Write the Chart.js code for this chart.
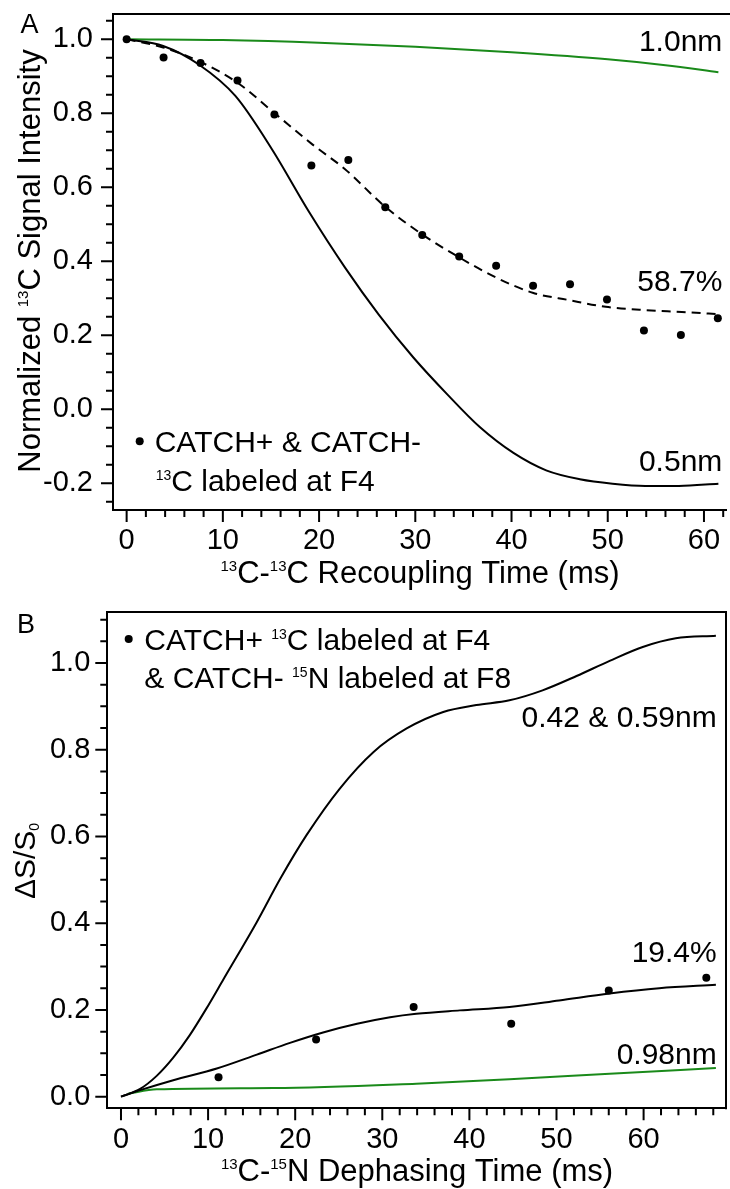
<!DOCTYPE html>
<html><head><meta charset="utf-8">
<script src="https://cdn.jsdelivr.net/npm/chart.js@4.4.1/dist/chart.umd.min.js"></script>
<style>
html,body{margin:0;padding:0;background:#fff;}
#wrap{position:relative;width:730px;height:1189px;overflow:hidden;}
canvas{position:absolute;left:0;}
</style></head><body>
<div id="wrap">
<canvas id="chartA" width="730" height="595" style="top:0"></canvas>
<canvas id="chartB" width="730" height="594" style="top:595px"></canvas>
</div>
<script>
const FONT = "'Liberation Sans', Arial, Helvetica, sans-serif";

// ---------- Panel A : 13C-13C recoupling ----------
const timeA   = [0, 3.84, 7.68, 11.52, 15.36, 19.2, 23.04, 26.88, 30.72, 34.56, 38.4, 42.24, 46.08, 49.92, 53.76, 57.6, 61.44];
const signalA = [1.0, 0.951, 0.936, 0.889, 0.797, 0.659, 0.674, 0.546, 0.471, 0.413, 0.388, 0.334, 0.338, 0.297, 0.213, 0.201, 0.246];

const fit587TimeA = [0, 3.8, 7.5, 11.5, 15.3, 19.3, 22.7, 26.8, 30.7, 34.6, 38.4, 42.2, 46.0, 49.8, 53.9, 57.7, 61.5];
const fit587A     = [1.0, 0.978, 0.941, 0.883, 0.802, 0.716, 0.649, 0.549, 0.473, 0.410, 0.356, 0.315, 0.295, 0.277, 0.268, 0.263, 0.257];

const nm05TimeA = [0, 3.8, 7.5, 11.3, 15.1, 18.9, 22.7, 26.2, 29.8, 33.3, 36.7, 40.2, 43.6, 47.1, 50.5, 53.9, 57.4, 61.5];
const nm05A     = [1.0, 0.982, 0.932, 0.847, 0.703, 0.536, 0.383, 0.256, 0.140, 0.041, -0.048, -0.118, -0.165, -0.189, -0.201, -0.207, -0.207, -0.201];

const nm10TimeA = [0, 10, 20, 30, 40, 50, 56, 61.5];
const nm10A     = [1.0, 0.998, 0.991, 0.980, 0.965, 0.946, 0.930, 0.911];

const xTicksA = [0, 10, 20, 30, 40, 50, 60];
const yTicksA = [-0.2, 0.0, 0.2, 0.4, 0.6, 0.8, 1.0];

// ---------- Panel B : 13C-15N dephasing ----------
const timeB  = [11.2, 22.4, 33.6, 44.8, 56.0, 67.2];
const deltaB = [0.045, 0.132, 0.207, 0.168, 0.245, 0.274];

const fit42TimeB = [0, 2.2, 4.1, 6.0, 7.9, 9.8, 11.8, 15.6, 18.3, 21.3, 25.1, 29.0, 32.8, 37.0, 40.8, 44.6, 48.4, 52.3, 56.1, 59.9, 63.7, 68.3];
const fit42B     = [0, 0.018, 0.048, 0.090, 0.142, 0.203, 0.272, 0.403, 0.503, 0.603, 0.710, 0.795, 0.849, 0.887, 0.903, 0.914, 0.937, 0.970, 1.005, 1.037, 1.057, 1.063];

const fit194TimeB = [0, 2.2, 6.0, 11.0, 15.6, 19.4, 23.2, 27.1, 30.9, 33.9, 38.9, 44.6, 50.3, 56.1, 61.8, 68.3];
const fit194B     = [0, 0.015, 0.038, 0.065, 0.097, 0.124, 0.148, 0.168, 0.183, 0.191, 0.199, 0.207, 0.222, 0.238, 0.250, 0.258];

const nm098TimeB = [0.8, 4.1, 17.5, 33.9, 44.6, 56.1, 68.3];
const nm098B     = [0.007, 0.017, 0.020, 0.030, 0.040, 0.053, 0.066];

const xTicksB = [0, 10, 20, 30, 40, 50, 60];
const yTicksB = [0.0, 0.2, 0.4, 0.6, 0.8, 1.0];

// ---------- texts ----------
const titleXA = [['13','sup'], ['C-'], ['13','sup'], ['C Recoupling Time (ms)']];
const titleYA = [['Normalized '], ['13','sup'], ['C Signal Intensity']];
const legendA1 = [['CATCH+ & CATCH-']];
const legendA2 = [['13','sup'], ['C labeled at F4']];
const titleXB = [['13','sup'], ['C-'], ['15','sup'], ['N Dephasing Time (ms)']];
const titleYB = [['\u0394S/S'], ['0','sub']];
const legendB1 = [['CATCH+ '], ['13','sup'], ['C labeled at F4']];
const legendB2 = [['& CATCH- '], ['15','sup'], ['N labeled at F8']];

const pts = (xs, ys) => xs.map((x, i) => ({x: x, y: ys[i]}));

function fontStr(size) { return size + 'px ' + FONT; }

function drawRich(ctx, segs, x, y, size, align, rot) {
  const SUP = 0.47;
  let w = 0;
  const parts = segs.map(s => {
    const k = s[1] || 'n';
    const sz = k === 'n' ? size : Math.round(size * SUP);
    ctx.font = fontStr(sz);
    const mw = ctx.measureText(s[0]).width;
    w += mw;
    return {t: s[0], k: k, sz: sz, w: mw};
  });
  ctx.save();
  ctx.translate(x, y);
  if (rot) ctx.rotate(-Math.PI / 2);
  let cx = align === 'center' ? -w / 2 : (align === 'right' ? -w : 0);
  ctx.fillStyle = '#000';
  ctx.textBaseline = 'alphabetic';
  ctx.textAlign = 'left';
  for (const p of parts) {
    ctx.font = fontStr(p.sz);
    let dy = 0;
    if (p.k === 'sup') dy = -0.38 * size;
    if (p.k === 'sub') dy = 0.14 * size;
    ctx.fillText(p.t, cx, dy);
    cx += p.w;
  }
  ctx.restore();
}

function decoPlugin(d) {
  return {
    id: 'deco',
    afterDraw(chart) {
      const ctx = chart.ctx, a = chart.chartArea;
      const xs = chart.scales.x, ys = chart.scales.y;
      ctx.save();
      ctx.strokeStyle = '#000';
      ctx.lineWidth = 2;
      ctx.beginPath();
      ctx.moveTo(a.left - 1, a.top);
      if (d.rightFrame) { ctx.lineTo(a.right, a.top); ctx.lineTo(a.right, a.bottom + 1); }
      else ctx.lineTo(chart.width, a.top);
      for (const v of d.xMinor) {
        const p = xs.getPixelForValue(v);
        const major = Math.abs(v / 10 - Math.round(v / 10)) < 1e-6;
        ctx.moveTo(p, a.bottom);
        ctx.lineTo(p, a.bottom + (major ? 12 : 7));
      }
      for (const v of d.yMinor) {
        const p = ys.getPixelForValue(v);
        const major = Math.abs(v / 0.2 - Math.round(v / 0.2)) < 1e-6;
        ctx.moveTo(a.left, p);
        ctx.lineTo(a.left - (major ? 12 : 7), p);
      }
      ctx.stroke();
      ctx.fillStyle = '#000';
      ctx.beginPath();
      ctx.arc(d.dot[0], d.dot[1], 4, 0, Math.PI * 2);
      ctx.fill();
      ctx.restore();
      for (const t of d.texts) drawRich(ctx, t.s, t.x, t.y, t.size, t.align, t.rot);
    }
  };
}

function makeChart(id, datasets, sc, deco) {
  return new Chart(document.getElementById(id), {
    type: 'line',
    data: { datasets: datasets },
    options: {
      responsive: false,
      animation: false,
      events: [],
      layout: { padding: { left: 0, top: sc.top, right: sc.right, bottom: 0 } },
      plugins: { legend: { display: false }, tooltip: { enabled: false }, title: { display: false } },
      scales: {
        x: {
          type: 'linear', min: sc.xMin, max: sc.xMax,
          afterBuildTicks: s => { s.ticks = sc.xTicks.map(v => ({value: v})); },
          afterFit: s => { s.height = sc.xHeight; s.paddingLeft = 0; s.paddingRight = 0; },
          ticks: { callback: v => String(v), font: { family: FONT, size: 29 }, color: '#000', padding: 14, maxRotation: 0, autoSkip: false },
          grid: { display: true, drawOnChartArea: false, drawTicks: false },
          border: { display: true, color: '#000', width: 2 }
        },
        y: {
          type: 'linear', min: sc.yMin, max: sc.yMax,
          afterBuildTicks: s => { s.ticks = sc.yTicks.map(v => ({value: v})); },
          afterFit: s => { s.width = sc.yWidth; s.paddingTop = 0; s.paddingBottom = 0; },
          ticks: { callback: v => Number(v).toFixed(1), font: { family: FONT, size: 29 }, color: '#000', padding: sc.yPad, autoSkip: false },
          grid: { display: true, drawOnChartArea: false, drawTicks: false },
          border: { display: true, color: '#000', width: 2 }
        }
      }
    },
    plugins: [decoPlugin(deco)]
  });
}

const lineStyle = { pointRadius: 0, borderWidth: 2, fill: false, cubicInterpolationMode: 'monotone' };
const GREEN = '#1a8a1a';

function range(a, b, step, dec) {
  const out = [];
  for (let i = 0; a + i * step <= b + 1e-9; i++) out.push(Number((a + i * step).toFixed(dec)));
  return out;
}

// Panel A
makeChart('chartA', [
  { data: pts(timeA, signalA), showLine: false, pointRadius: 4, pointBackgroundColor: '#000', pointBorderWidth: 0, borderColor: '#000' },
  Object.assign({ data: pts(fit587TimeA, fit587A), borderColor: '#000', borderDash: [9, 6] }, lineStyle),
  Object.assign({ data: pts(nm05TimeA, nm05A), borderColor: '#000' }, lineStyle),
  Object.assign({ data: pts(nm10TimeA, nm10A), borderColor: GREEN }, lineStyle)
], {
  top: 14, right: 1, xHeight: 85, yWidth: 113, yPad: 20,
  xMin: -1.417, xMax: 62.29, yMin: -0.2722, yMax: 1.0684,
  xTicks: xTicksA, yTicks: yTicksA
}, {
  rightFrame: false,
  xMinor: range(0, 62, 2, 0),
  yMinor: range(-0.25, 1.05, 0.05, 2),
  dot: [139.7, 441.3],
  texts: [
    { s: [['A']], x: 20.5, y: 33.3, size: 27, align: 'left' },
    { s: [['1.0nm']], x: 722.3, y: 51, size: 30, align: 'right' },
    { s: [['58.7%']], x: 722.3, y: 291, size: 30, align: 'right' },
    { s: [['0.5nm']], x: 722.3, y: 471, size: 30, align: 'right' },
    { s: legendA1, x: 154.7, y: 452, size: 30, align: 'left' },
    { s: legendA2, x: 155.7, y: 491, size: 30, align: 'left' },
    { s: titleXA, x: 420, y: 583, size: 31, align: 'center' },
    { s: titleYA, x: 40, y: 261, size: 31, align: 'center', rot: true }
  ]
});

// Panel B
makeChart('chartB', [
  { data: pts(timeB, deltaB), showLine: false, pointRadius: 4, pointBackgroundColor: '#000', pointBorderWidth: 0, borderColor: '#000' },
  Object.assign({ data: pts(fit42TimeB, fit42B), borderColor: '#000' }, lineStyle),
  Object.assign({ data: pts(fit194TimeB, fit194B), borderColor: '#000' }, lineStyle),
  Object.assign({ data: pts(nm098TimeB, nm098B), borderColor: GREEN }, lineStyle)
], {
  top: 17, right: 3.3, xHeight: 80.7, yWidth: 107.3, yPad: 17,
  xMin: -1.571, xMax: 69.46, yMin: -0.0268, yMax: 1.1176,
  xTicks: xTicksB, yTicks: yTicksB
}, {
  rightFrame: true,
  xMinor: range(0, 68, 2, 0),
  yMinor: range(0, 1.1, 0.05, 2),
  dot: [128.7, 44],
  texts: [
    { s: [['B']], x: 17, y: 38, size: 27, align: 'left' },
    { s: legendB1, x: 144.3, y: 55, size: 30, align: 'left' },
    { s: legendB2, x: 144.3, y: 93, size: 30, align: 'left' },
    { s: [['0.42 & 0.59nm']], x: 716.7, y: 132, size: 30, align: 'right' },
    { s: [['19.4%']], x: 716.7, y: 367, size: 30, align: 'right' },
    { s: [['0.98nm']], x: 716.7, y: 469, size: 30, align: 'right' },
    { s: titleXB, x: 417, y: 586, size: 31, align: 'center' },
    { s: titleYB, x: 35, y: 266, size: 30, align: 'center', rot: true }
  ]
});
</script>
</body></html>
